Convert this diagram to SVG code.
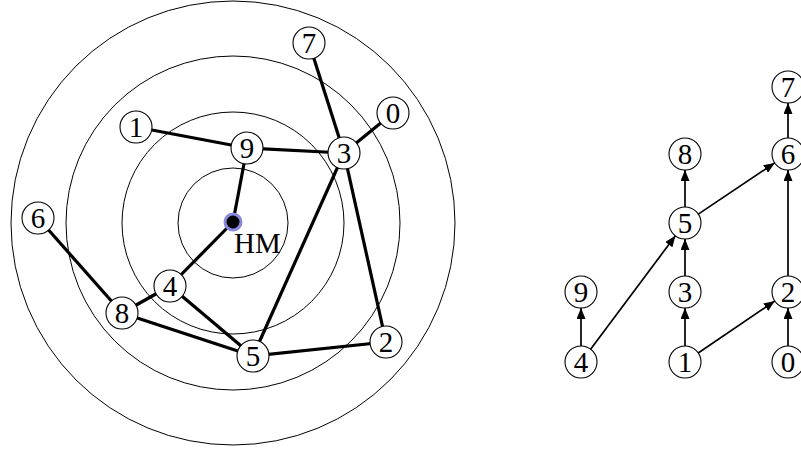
<svg xmlns="http://www.w3.org/2000/svg" width="801" height="450" viewBox="0 0 801 450">
<defs>
<marker id="arr" markerUnits="userSpaceOnUse" markerWidth="12" markerHeight="9" refX="11" refY="4.5" orient="auto">
<path d="M0,0 L11,4.5 L0,9 z" fill="#000"/>
</marker>
</defs>
<style>
.ring{fill:none;stroke:#000;stroke-width:1}
.n circle{fill:#fff;stroke:#000;stroke-width:1.1}
.n text{font-family:"Liberation Serif",serif;font-size:29px;text-anchor:middle;fill:#000}
.e line{stroke:#000;stroke-width:3.2}
.a line{stroke:#000;stroke-width:1.7;marker-end:url(#arr)}
</style>
<rect width="801" height="450" fill="#fff"/>
<g id="rings">
<circle class="ring" cx="233" cy="223" r="55"/>
<circle class="ring" cx="233" cy="223" r="111"/>
<circle class="ring" cx="233" cy="223" r="167"/>
<circle class="ring" cx="233" cy="223" r="222"/>
</g>
<g id="edges-left" class="e">
<line x1="136" y1="127" x2="247" y2="148"/>
<line x1="247" y1="148" x2="344" y2="153"/>
<line x1="344" y1="153" x2="309" y2="43"/>
<line x1="344" y1="153" x2="393" y2="113"/>
<line x1="344" y1="153" x2="253" y2="356"/>
<line x1="344" y1="153" x2="386" y2="342"/>
<line x1="247" y1="148" x2="233" y2="222"/>
<line x1="233" y1="222" x2="170" y2="286"/>
<line x1="170" y1="286" x2="122" y2="313"/>
<line x1="170" y1="286" x2="253" y2="356"/>
<line x1="122" y1="313" x2="38" y2="218"/>
<line x1="122" y1="313" x2="253" y2="356"/>
<line x1="253" y1="356" x2="386" y2="342"/>
</g>
<g id="HM">
<circle cx="233" cy="222" r="8" fill="#000" stroke="#8888dd" stroke-width="3"/>
<text x="234" y="253" font-family="'Liberation Serif',serif" font-size="29">HM</text>
</g>
<g id="L7" class="n"><circle cx="309" cy="43" r="16"/><text x="309" y="52.5">7</text></g>
<g id="L0" class="n"><circle cx="393" cy="113" r="16"/><text x="393" y="122.5">0</text></g>
<g id="L1" class="n"><circle cx="136" cy="127" r="16"/><text x="136" y="136.5">1</text></g>
<g id="L9" class="n"><circle cx="247" cy="148" r="16"/><text x="247" y="157.5">9</text></g>
<g id="L3" class="n"><circle cx="344" cy="153" r="16"/><text x="344" y="162.5">3</text></g>
<g id="L6" class="n"><circle cx="38" cy="218" r="16"/><text x="38" y="227.5">6</text></g>
<g id="L4" class="n"><circle cx="170" cy="286" r="16"/><text x="170" y="295.5">4</text></g>
<g id="L8" class="n"><circle cx="122" cy="313" r="16"/><text x="122" y="322.5">8</text></g>
<g id="L5" class="n"><circle cx="253" cy="356" r="16"/><text x="253" y="365.5">5</text></g>
<g id="L2" class="n"><circle cx="386" cy="342" r="16"/><text x="386" y="351.5">2</text></g>
<g id="edges-right" class="a">
<line x1="581" y1="346" x2="581" y2="308"/>
<line x1="685" y1="346" x2="685" y2="308"/>
<line x1="685" y1="276" x2="685" y2="239"/>
<line x1="685" y1="207" x2="685" y2="170"/>
<line x1="788" y1="276" x2="788" y2="170"/>
<line x1="788" y1="138" x2="788" y2="103"/>
<line x1="788" y1="346" x2="788" y2="308"/>
<line x1="590.6" y1="349.2" x2="675.4" y2="235.8"/>
<line x1="698.2" y1="353" x2="774.8" y2="301"/>
<line x1="698.3" y1="214.1" x2="774.7" y2="162.9"/>
</g>
<g id="R7" class="n"><circle cx="788" cy="87" r="16"/><text x="788" y="96.5">7</text></g>
<g id="R8" class="n"><circle cx="685" cy="154" r="16"/><text x="685" y="163.5">8</text></g>
<g id="R6" class="n"><circle cx="788" cy="154" r="16"/><text x="788" y="163.5">6</text></g>
<g id="R5" class="n"><circle cx="685" cy="223" r="16"/><text x="685" y="232.5">5</text></g>
<g id="R9" class="n"><circle cx="581" cy="292" r="16"/><text x="581" y="301.5">9</text></g>
<g id="R3" class="n"><circle cx="685" cy="292" r="16"/><text x="685" y="301.5">3</text></g>
<g id="R2" class="n"><circle cx="788" cy="292" r="16"/><text x="788" y="301.5">2</text></g>
<g id="R4" class="n"><circle cx="581" cy="362" r="16"/><text x="581" y="371.5">4</text></g>
<g id="R1" class="n"><circle cx="685" cy="362" r="16"/><text x="685" y="371.5">1</text></g>
<g id="R0" class="n"><circle cx="788" cy="362" r="16"/><text x="788" y="371.5">0</text></g>
</svg>
